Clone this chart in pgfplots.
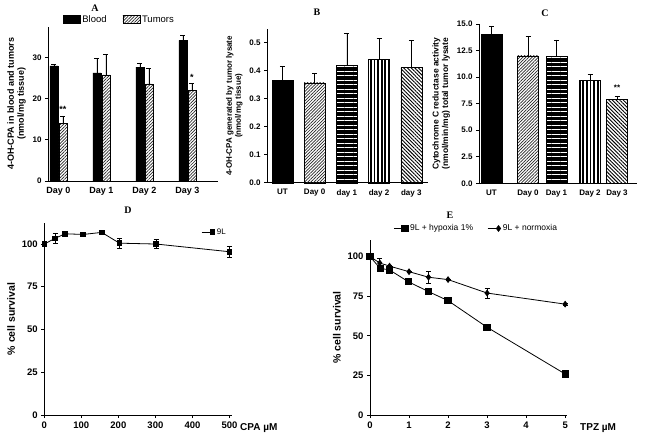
\documentclass[border=0pt]{standalone}
\usepackage{fontspec}
\setmainfont{Liberation Sans}
\newfontfamily\titlefont{Liberation Serif}
\usepackage{pgfplots}
\pgfplotsset{compat=1.18}
\usetikzlibrary{patterns,patterns.meta}

\pgfplotsset{
 panel/.style={scale only axis, axis x line*=bottom, axis y line*=left,
   axis line style={line width=0.9pt}, tick align=outside, major tick length=3pt,
   tick style={line width=0.8pt, black},
   ticklabel style={font=\bfseries\fontsize{8}{9}\selectfont},
   /pgf/number format/assume math mode=true,
   label style={font=\bfseries\fontsize{9}{10}\selectfont}, clip=false},
 ebar/.style={error bars/.cd, y dir=plus, y explicit,
   error bar style={line width=0.6pt, black},
   error mark options={rotate=90, mark size=2.5pt, line width=0.6pt}},
 ebarboth/.style={error bars/.cd, y dir=both, y explicit,
   error bar style={line width=0.6pt, black},
   error mark options={rotate=90, mark size=2.5pt, line width=0.6pt}},
 hatchNE/.style={pattern={Lines[angle=45,distance=2.2pt,line width=0.7pt]}, pattern color=black!85},
 hatchNW/.style={pattern={Lines[angle=-45,distance=2.6pt,line width=0.9pt]}, pattern color=black},
 whiteH/.style={pattern={Lines[angle=0,distance=4.5pt,line width=0.35pt]}, pattern color=white},
 vstripe/.style={pattern={Lines[angle=90,distance=3.6pt,line width=1.8pt]}, pattern color=black},
 linelegend/.style={legend image code/.code={\draw[mark repeat=2,mark phase=2,##1] plot coordinates {(0pt,0pt) (11pt,0pt) (13pt,0pt)};}},
}

\begin{document}
\begin{tikzpicture}
\path[use as bounding box] (0pt,0pt) rectangle (645pt,440pt);

% ---------------- A ----------------
\begin{axis}[panel, at={(48pt,259pt)}, anchor=south west, width=170pt, height=154.3pt,
  xmin=-0.244, xmax=3.71, ymin=0, ymax=37.5, ytick={0,10,20,30},
  xtick={0,1,2,3}, xticklabels={Day 0,Day 1,Day 2,Day 3}, xtick style={draw=none},
  xticklabel style={font=\bfseries\fontsize{9}{10}\selectfont},
  ybar=1pt, bar width=8pt,
  ylabel={4-OH-CPA in blood and tumors\\(nmol/mg tissue)}, ylabel style={align=center},
  legend columns=2, area legend,
  legend image code/.code={\draw[#1] (0pt,-3.5pt) rectangle (17pt,4.5pt);},
  legend style={at={(0.42,0.99)}, anchor=south, draw=none, fill=none,
    font=\fontsize{9.5}{10}\selectfont, /tikz/every even column/.append style={column sep=14pt}}]
\addplot[fill=black, draw=black, ebar] coordinates {(0,28) +- (0,0.4) (1,26.3) +- (0,3.5) (2,27.7) +- (0,1.0) (3,34.2) +- (0,1.2)};
\addplot[hatchNE, draw=black, ebar] coordinates {(0,14) +- (0,1.8) (1,25.8) +- (0,5.0) (2,23.6) +- (0,3.8) (3,22.0) +- (0,1.8)};
\legend{Blood,Tumors}
\node[anchor=south, font=\bfseries\fontsize{9}{9}\selectfont, xshift=4.5pt] at (axis cs:0,15.8) {**};
\node[anchor=south, font=\bfseries\fontsize{9}{9}\selectfont, xshift=4.5pt] at (axis cs:3,23.6) {*};
\end{axis}

% ---------------- B ----------------
\begin{axis}[panel, at={(267pt,257.3pt)}, anchor=south west, width=161pt, height=153.7pt,
  xmin=-0.48, xmax=4.52, ymin=0, ymax=0.549, ytick={0,0.1,0.2,0.3,0.4,0.5},
  yticklabel style={/pgf/number format/.cd, fixed, fixed zerofill, precision=1},
  xtick={0,1,2,3,4}, xticklabels={UT,Day 0,day 1,day 2,day 3}, xtick style={draw=none},
  ybar, bar width=21pt, bar shift=0pt,
  ylabel={4-OH-CPA generated by tumor lysate\\(nmol/mg tissue)},
  ylabel style={align=center, font=\bfseries\fontsize{8}{9}\selectfont}]
\addplot[fill=black, draw=black, ebar] coordinates {(0,0.367) +- (0,0.048)};
\addplot[hatchNE, draw=black, ebar] coordinates {(1,0.357) +- (0,0.033)};
\addplot[fill=black, draw=black, ebar] coordinates {(2,0.420) +- (0,0.115)};
\addplot[whiteH, draw=black] coordinates {(2,0.420)};
\addplot[vstripe, draw=black, ebar] coordinates {(3,0.440) +- (0,0.075)};
\addplot[hatchNW, draw=black, ebar] coordinates {(4,0.412) +- (0,0.095)};
\end{axis}

% ---------------- C ----------------
\begin{axis}[panel, at={(479pt,256.7pt)}, anchor=south west, width=158pt, height=159.3pt,
  xmin=0, xmax=158, ymin=0, ymax=15, ytick={0,2.5,5,7.5,10,12.5,15},
  yticklabel style={/pgf/number format/.cd, fixed, fixed zerofill, precision=1},
  xtick={12.5,49,77.5,111,138}, xticklabels={UT,Day 0,Day 1,Day 2,Day 3}, xtick style={draw=none},
  ybar, bar width=21pt, bar shift=0pt,
  ylabel={Cytochrome C reductase activity\\(nmol/min/mg) total tumor lysate},
  ylabel style={align=center, font=\bfseries\fontsize{8.5}{9.5}\selectfont}]
\addplot[fill=black, draw=black, ebar] coordinates {(12.5,14.0) +- (0,0.8)};
\addplot[hatchNE, draw=black, ebar] coordinates {(49,12.0) +- (0,1.8)};
\addplot[fill=black, draw=black, ebar] coordinates {(77.5,11.95) +- (0,1.55)};
\addplot[whiteH, draw=black] coordinates {(77.5,11.95)};
\addplot[vstripe, draw=black, ebar] coordinates {(111,9.7) +- (0,0.6)};
\addplot[hatchNW, draw=black, ebar] coordinates {(138,7.9) +- (0,0.3)};
\node[anchor=south, font=\bfseries\fontsize{8}{8}\selectfont] at (axis cs:138,8.4) {**};
\end{axis}

% ---------------- D ----------------
\begin{axis}[panel, at={(44.3pt,25pt)}, anchor=south west, width=187.4pt, height=192pt,
  xmin=0, xmax=506, ymin=0, ymax=112.3, xtick={0,100,200,300,400,500}, ytick={0,25,50,75,100},
  ticklabel style={font=\bfseries\fontsize{9.5}{10}\selectfont},
  ylabel={\% cell survival}, ylabel style={font=\bfseries\fontsize{10.5}{12}\selectfont},
  linelegend,
  legend style={at={(0.82,0.953)}, anchor=west, draw=none, fill=none, font=\fontsize{8}{8}\selectfont}]
\addplot[black, line width=0.8pt, mark=square*, mark size=2.3pt, ebarboth] coordinates {
 (0,100) +- (0,0) (29,103.3) +- (0,3) (56,106) +- (0,0.5) (105,105.6) +- (0,0.5)
 (155,106.8) +- (0,0.5) (203,100.5) +- (0,3) (302,100) +- (0,2.5) (500,95.5) +- (0,3)};
\legend{9L}
\node[anchor=west, font=\bfseries\fontsize{10}{12}\selectfont, xshift=5pt, yshift=-13pt] at (rel axis cs:1,0) {CPA µM};
\end{axis}

% ---------------- E ----------------
\begin{axis}[panel, at={(370pt,25pt)}, anchor=south west, width=196.7pt, height=175pt,
  xmin=0, xmax=5.04, ymin=0, ymax=110.5, xtick={0,1,2,3,4,5}, ytick={0,25,50,75,100},
  ticklabel style={font=\bfseries\fontsize{9.5}{10}\selectfont},
  ylabel={\% cell survival}, ylabel style={font=\bfseries\fontsize{10.5}{12}\selectfont},
  linelegend, legend columns=2,
  legend style={at={(0.54,1.02)}, anchor=south, draw=none, fill=none, font=\fontsize{8.5}{9}\selectfont,
   /tikz/every even column/.append style={column sep=12pt}}]
\addplot[black, line width=0.8pt, mark=square*, mark size=3.2pt] coordinates {
 (0,100) (0.26,92.6) (0.5,91.6) (0.98,84.2) (1.5,77.9) (2.0,72.2) (3.0,55.4) (5.0,25.9)};
\addplot[black, line width=0.8pt, mark=diamond*, mark size=2.8pt, ebarboth] coordinates {
 (0,100) +- (0,0) (0.25,96) +- (0,3) (0.5,94) +- (0,0.5) (1.0,90.5) +- (0,0.5)
 (1.5,87) +- (0,4) (2.0,85.5) +- (0,0.5) (3.0,77) +- (0,3) (5.0,70) +- (0,0.5)};
\legend{9L + hypoxia 1\%, 9L + normoxia}
\node[anchor=west, font=\bfseries\fontsize{10}{12}\selectfont, xshift=10pt, yshift=-13pt] at (rel axis cs:1,0) {TPZ µM};
\end{axis}

% titles
\node[font=\titlefont\bfseries\fontsize{10}{10}\selectfont] at (95pt,432pt) {A};
\node[font=\titlefont\bfseries\fontsize{10}{10}\selectfont] at (317pt,428pt) {B};
\node[font=\titlefont\bfseries\fontsize{10}{10}\selectfont] at (545pt,427pt) {C};
\node[font=\titlefont\bfseries\fontsize{10}{10}\selectfont] at (128pt,230pt) {D};
\node[font=\titlefont\bfseries\fontsize{10}{10}\selectfont] at (450pt,225pt) {E};
\end{tikzpicture}
\end{document}
